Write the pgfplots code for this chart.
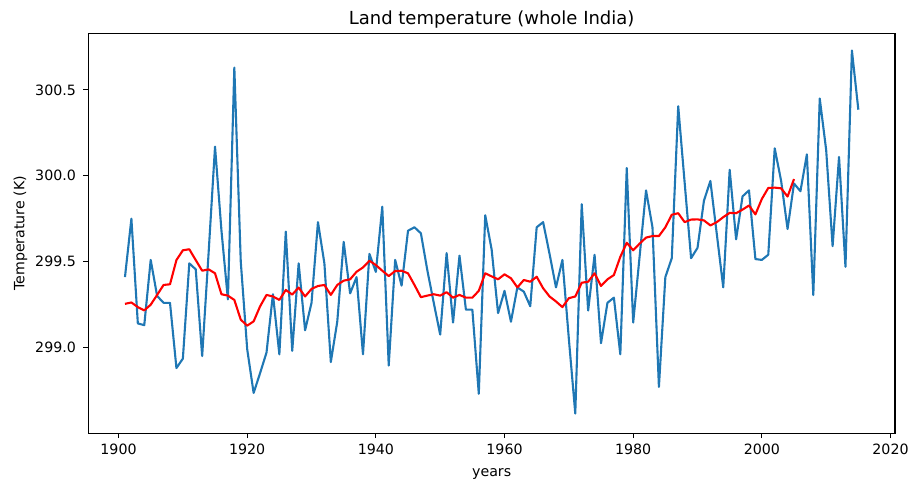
\documentclass[border=0pt]{standalone}
\usepackage{fontspec}
\setmainfont{DejaVu Sans}
\usepackage{pgfplots}
\pgfplotsset{compat=1.18}
\definecolor{mplblue}{HTML}{1F77B4}
\begin{document}
\begin{tikzpicture}
\begin{axis}[
  scale only axis,
  width=806.7pt, height=400pt,
  xmin=1895.3, xmax=2020.7,
  ymin=298.5, ymax=300.83,
  xtick={1900,1920,1940,1960,1980,2000,2020},
  ytick={299.0,299.5,300.0,300.5},
  /pgf/number format/assume math mode=true,
  tick label style={font=\fontsize{14.2}{17}\selectfont, inner sep=0pt},
  xticklabel style={/pgf/number format/set thousands separator={}, anchor=north, yshift=-5.3pt},
  yticklabel style={/pgf/number format/fixed, /pgf/number format/fixed zerofill, /pgf/number format/precision=1, anchor=east, xshift=-7.3pt},
  tick align=outside,
  major tick length=4.9pt,
  every tick/.style={black, line width=1.1pt},
  xtick pos=bottom, ytick pos=left,
  axis line style={line width=1.1pt},
  title={Land temperature (whole India)},
  title style={font=\fontsize{18}{21}\selectfont, at={(axis description cs:0.5,1.0058)}, anchor=base, inner sep=0pt},
  xlabel={years},
  xlabel style={font=\fontsize{14.2}{17}\selectfont, at={(axis description cs:0.5,-0.1068)}, anchor=base, inner sep=0pt},
  ylabel={Temperature (K)},
  ylabel style={font=\fontsize{14.2}{17}\selectfont, at={(axis description cs:-0.0791,0.5)}, anchor=base, inner sep=0pt},
]
\addplot[mplblue, line width=2.1pt, line join=round, no markers] table {
x y
1901 299.41
1902 299.75
1903 299.14
1904 299.13
1905 299.51
1906 299.30
1907 299.26
1908 299.26
1909 298.88
1910 298.935
1911 299.49
1912 299.455
1913 298.95
1914 299.55
1915 300.17
1916 299.68
1917 299.28
1918 300.63
1919 299.50
1920 298.99
1921 298.735
1922 298.85
1923 298.97
1924 299.31
1925 298.96
1926 299.675
1927 298.98
1928 299.49
1929 299.10
1930 299.26
1931 299.73
1932 299.49
1933 298.915
1934 299.15
1935 299.615
1936 299.315
1937 299.41
1938 298.96
1939 299.545
1940 299.44
1941 299.82
1942 298.895
1943 299.51
1944 299.36
1945 299.68
1946 299.70
1947 299.665
1948 299.45
1949 299.26
1950 299.075
1951 299.55
1952 299.145
1953 299.535
1954 299.22
1955 299.22
1956 298.73
1957 299.77
1958 299.57
1959 299.20
1960 299.33
1961 299.15
1962 299.35
1963 299.325
1964 299.24
1965 299.70
1966 299.73
1967 299.545
1968 299.35
1969 299.51
1970 299.05
1971 298.615
1972 299.835
1973 299.215
1974 299.54
1975 299.025
1976 299.26
1977 299.29
1978 298.96
1979 300.045
1980 299.145
1981 299.53
1982 299.915
1983 299.70
1984 298.77
1985 299.41
1986 299.52
1987 300.405
1988 299.96
1989 299.52
1990 299.58
1991 299.855
1992 299.97
1993 299.66
1994 299.35
1995 300.035
1996 299.63
1997 299.88
1998 299.915
1999 299.515
2000 299.51
2001 299.54
2002 300.16
2003 299.97
2004 299.69
2005 299.955
2006 299.91
2007 300.125
2008 299.305
2009 300.45
2010 300.15
2011 299.59
2012 300.11
2013 299.47
2014 300.73
2015 300.385
};
\addplot[red, line width=2.1pt, line join=round, no markers] table {
x y
1901 299.254
1902 299.262
1903 299.235
1904 299.216
1905 299.249
1906 299.306
1907 299.364
1908 299.368
1909 299.509
1910 299.566
1911 299.572
1912 299.509
1913 299.447
1914 299.455
1915 299.432
1916 299.31
1917 299.302
1918 299.277
1919 299.162
1920 299.127
1921 299.152
1922 299.239
1923 299.306
1924 299.297
1925 299.277
1926 299.335
1927 299.308
1928 299.349
1929 299.297
1930 299.341
1931 299.358
1932 299.364
1933 299.306
1934 299.364
1935 299.389
1936 299.397
1937 299.441
1938 299.466
1939 299.505
1940 299.48
1941 299.447
1942 299.416
1943 299.445
1944 299.447
1945 299.432
1946 299.364
1947 299.293
1948 299.302
1949 299.31
1950 299.302
1951 299.322
1952 299.29
1953 299.306
1954 299.29
1955 299.29
1956 299.33
1957 299.432
1958 299.414
1959 299.397
1960 299.426
1961 299.403
1962 299.35
1963 299.393
1964 299.383
1965 299.412
1966 299.345
1967 299.297
1968 299.268
1969 299.235
1970 299.287
1971 299.297
1972 299.377
1973 299.383
1974 299.432
1975 299.358
1976 299.397
1977 299.422
1978 299.528
1979 299.61
1980 299.566
1981 299.605
1982 299.64
1983 299.649
1984 299.649
1985 299.70
1986 299.773
1987 299.782
1988 299.73
1989 299.745
1990 299.746
1991 299.74
1992 299.711
1993 299.73
1994 299.759
1995 299.784
1996 299.782
1997 299.803
1998 299.827
1999 299.775
2000 299.865
2001 299.929
2002 299.931
2003 299.927
2004 299.879
2005 299.981
};
\end{axis}
\pgfresetboundingbox
\path[use as bounding box] ([xshift=-88.3pt,yshift=-50.7pt]current axis.south west) rectangle ([xshift=17pt,yshift=33.3pt]current axis.north east);
\end{tikzpicture}
\end{document}
